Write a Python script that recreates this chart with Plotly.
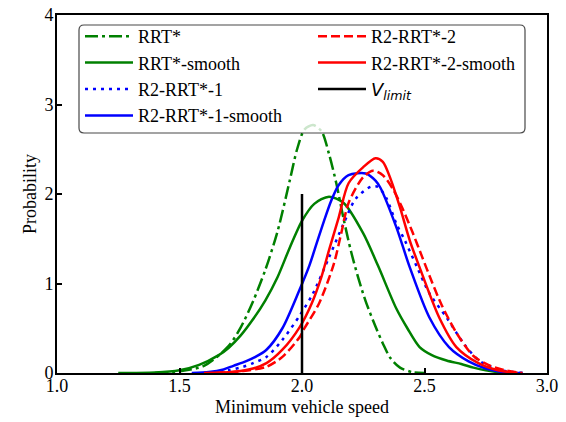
import plotly.graph_objects as go

# Kernel-density curves of the minimum vehicle speed for each planner
rrt_x = [1.40, 1.50, 1.60, 1.70, 1.75, 1.80, 1.85, 1.90, 1.95, 1.98, 2.01, 2.045,
         2.08, 2.11, 2.14, 2.17, 2.20, 2.23, 2.26, 2.30, 2.33, 2.36, 2.40, 2.45, 2.50]
rrt_y = [0.0, 0.02, 0.08, 0.30, 0.51, 0.80, 1.15, 1.58, 2.15, 2.50, 2.72, 2.77,
         2.70, 2.45, 2.12, 1.72, 1.36, 1.06, 0.80, 0.52, 0.33, 0.17, 0.06, 0.01, 0.0]

rrt_s_x = [1.25, 1.40, 1.50, 1.58, 1.66, 1.70, 1.75, 1.80, 1.85, 1.90, 1.95, 2.00,
           2.05, 2.11, 2.17, 2.25, 2.31, 2.385, 2.43, 2.48, 2.53, 2.59, 2.65, 2.70,
           2.75, 2.80, 2.85]
rrt_s_y = [0.0, 0.005, 0.03, 0.09, 0.20, 0.28, 0.42, 0.60, 0.81, 1.07, 1.40, 1.70,
           1.89, 1.97, 1.90, 1.56, 1.20, 0.72, 0.50, 0.29, 0.20, 0.14, 0.10, 0.06,
           0.03, 0.01, 0.0]

r1_x = [1.60, 1.70, 1.76, 1.80, 1.855, 1.92, 1.99, 2.045, 2.11, 2.17, 2.22, 2.28,
        2.31, 2.345, 2.385, 2.42, 2.47, 2.52, 2.59, 2.66, 2.72, 2.80, 2.90]
r1_y = [0.0, 0.03, 0.07, 0.11, 0.18, 0.37, 0.64, 0.89, 1.29, 1.67, 1.95, 2.08,
        2.08, 1.95, 1.67, 1.48, 1.18, 0.89, 0.62, 0.33, 0.145, 0.04, 0.0]

r1_s_x = [1.55, 1.62, 1.68, 1.72, 1.77, 1.81, 1.855, 1.92, 1.99, 2.03, 2.06, 2.09,
          2.12, 2.15, 2.19, 2.26, 2.30, 2.32, 2.385, 2.44, 2.52, 2.60, 2.68, 2.75,
          2.82, 2.90]
r1_s_y = [0.0, 0.01, 0.04, 0.08, 0.13, 0.18, 0.26, 0.50, 0.93, 1.20, 1.45, 1.70,
          1.93, 2.10, 2.21, 2.23, 2.15, 2.07, 1.63, 1.18, 0.62, 0.29, 0.13, 0.05,
          0.01, 0.0]

r2_x = [1.65, 1.75, 1.855, 1.92, 1.99, 2.01, 2.07, 2.13, 2.16, 2.19, 2.25, 2.29,
        2.33, 2.37, 2.41, 2.45, 2.49, 2.53, 2.57, 2.63, 2.70, 2.76, 2.83, 2.90]
r2_y = [0.0, 0.02, 0.07, 0.18, 0.40, 0.50, 0.78, 1.22, 1.56, 1.90, 2.19, 2.26,
        2.21, 2.06, 1.84, 1.58, 1.30, 1.02, 0.76, 0.45, 0.19, 0.09, 0.03, 0.0]

r2_s_x = [1.60, 1.717, 1.80, 1.855, 1.92, 1.99, 2.04, 2.08, 2.11, 2.15, 2.19, 2.25,
          2.30, 2.33, 2.36, 2.40, 2.44, 2.48, 2.56, 2.63, 2.72, 2.80, 2.88]
r2_s_y = [0.0, 0.01, 0.05, 0.11, 0.26, 0.51, 0.78, 1.08, 1.37, 1.74, 2.12, 2.30,
          2.40, 2.36, 2.18, 1.85, 1.48, 1.18, 0.62, 0.29, 0.11, 0.03, 0.0]

v_limit = 2.0
v_limit_top = 2.0

x_ticks = [1.0, 1.5, 2.0, 2.5, 3.0]
y_ticks = [0, 1, 2, 3, 4]

SERIF = "Liberation Serif"
LW = 2.5

fig = go.Figure()


def add_curve(x, y, name, color, dash, legend):
    fig.add_trace(go.Scatter(
        x=x, y=y, name=name, mode="lines",
        line=dict(color=color, width=LW, dash=dash, shape="spline", smoothing=0.8),
        legend=legend,
    ))


add_curve(rrt_x, rrt_y, "RRT*", "green", "13px,4px,3px,4px", "legend")
add_curve(rrt_s_x, rrt_s_y, "RRT*-smooth", "green", "solid", "legend")
add_curve(r1_x, r1_y, "R2-RRT*-1", "blue", "3px,5px", "legend")
add_curve(r1_s_x, r1_s_y, "R2-RRT*-1-smooth", "blue", "solid", "legend")
add_curve(r2_x, r2_y, "R2-RRT*-2", "red", "9px,4px", "legend2")
add_curve(r2_s_x, r2_s_y, "R2-RRT*-2-smooth", "red", "solid", "legend2")

fig.add_trace(go.Scatter(
    x=[v_limit, v_limit], y=[0, v_limit_top], mode="lines",
    name='<span style="font-family:DejaVu Sans"><i>V</i><sub><i>limit</i></sub></span>',
    line=dict(color="black", width=LW), legend="legend2",
))

# plot area geometry in pixels
W, H = 566, 422
L, R, T, B = 57, 19, 15, 49
PW, PH = W - L - R, H - T - B


def px(xp):
    return (xp - L) / PW


def py(yp):
    return (H - B - yp) / PH


# rounded legend frame, semi-transparent so curves underneath show faded
x0, x1, yb, yt = px(79), px(525), py(133), py(25)
rx, ry = 5 / PW, 5 / PH
frame = (f"M{x0+rx},{yb} L{x1-rx},{yb} Q{x1},{yb} {x1},{yb+ry} "
         f"L{x1},{yt-ry} Q{x1},{yt} {x1-rx},{yt} L{x0+rx},{yt} "
         f"Q{x0},{yt} {x0},{yt-ry} L{x0},{yb+ry} Q{x0},{yb} {x0+rx},{yb} Z")
fig.add_shape(type="path", path=frame, xref="paper", yref="paper",
              fillcolor="rgba(255,255,255,0.8)",
              line=dict(color="rgba(40,40,40,0.85)", width=1.2), layer="above")

legend_common = dict(
    bgcolor="rgba(0,0,0,0)", borderwidth=0,
    font=dict(family=SERIF, size=18, color="black"),
    xanchor="left", yanchor="top", orientation="v", itemwidth=48,
)

fig.update_layout(
    width=W, height=H,
    margin=dict(l=L, r=R, t=T, b=B, autoexpand=False),
    paper_bgcolor="white", plot_bgcolor="white",
    font=dict(family=SERIF, size=18, color="black"),
    showlegend=True,
    legend=dict(x=px(80), y=py(18), **legend_common),
    legend2=dict(x=px(313), y=py(18), **legend_common),
    xaxis=dict(
        range=[1.0, 3.0], tickvals=x_ticks, ticktext=[f"{v:.1f}" for v in x_ticks],
        ticks="inside", ticklen=5, tickwidth=1.5, tickcolor="black",
        showline=True, linecolor="black", linewidth=2, mirror=True,
        showgrid=False, zeroline=False, automargin=False, ticklabelstandoff=-5,
        title=dict(text="Minimum vehicle speed", font=dict(size=18), standoff=6),
        tickfont=dict(size=18),
    ),
    yaxis=dict(
        range=[0, 4], tickvals=y_ticks, ticktext=[str(v) for v in y_ticks],
        ticks="inside", ticklen=5, tickwidth=1.5, tickcolor="black",
        showline=True, linecolor="black", linewidth=2, mirror=True,
        showgrid=False, zeroline=False, automargin=False, ticklabelstandoff=-2,
        title=dict(text="Probability", font=dict(size=18), standoff=3),
        tickfont=dict(size=18),
    ),
)

fig.write_html("out.html")
